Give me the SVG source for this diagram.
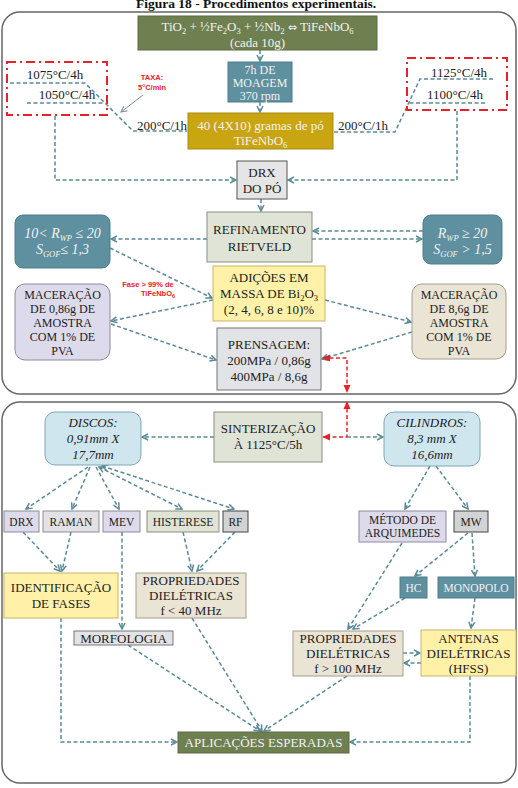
<svg xmlns="http://www.w3.org/2000/svg" width="518" height="788" viewBox="0 0 518 788">
<style>
text{font-family:"Liberation Serif","Times New Roman",serif;font-size:13px;fill:#222;text-anchor:middle}
.w{fill:#f2f2f2}
.s{font-size:11.5px}
.m{font-size:12px}
.i{font-style:italic}
.sub{font-size:8.5px}
.red{font-family:"Liberation Sans",Arial,sans-serif;font-weight:bold;font-size:7.5px;fill:#e8202a}
.panel{fill:#fff;stroke:#666;stroke-width:1.5}
.c{fill:none;stroke:#5b8a96;stroke-width:1.5;stroke-dasharray:4 2.5;marker-end:url(#a)}
.n{fill:none;stroke:#5b8a96;stroke-width:1.5;stroke-dasharray:4 2.5}
.b{marker-start:url(#a)}
.r{fill:none;stroke:#e8202a;stroke-width:1.5;stroke-dasharray:4 2.5;marker-start:url(#ar);marker-end:url(#ar)}
.dd{fill:none;stroke:#e8202a;stroke-width:2;stroke-dasharray:9 4 2 4}
.green{fill:#6e8050;stroke:#5a6b40}
.teal{fill:#5f909f;stroke:#4d7d8b}
.gold{fill:#c9a512;stroke:#a88a10}
.gray{fill:#e5e5e5;stroke:#555}
.gg{fill:#dfe4d7;stroke:#8a8f80}
.yel{fill:#fff1a8;stroke:#c8b56a}
.lav{fill:#dddbeb;stroke:#8c8a9c}
.bei{fill:#e9e4d4;stroke:#a39e8e}
.lg{fill:#e1e3e6;stroke:#777}
.lb{fill:#cfe6ee;stroke:#7fa7b3}
.rf{fill:#d3d3d3;stroke:#444}
</style>
<defs>
<marker id="a" viewBox="0 0 8 8" refX="7" refY="4" markerWidth="8" markerHeight="8" markerUnits="userSpaceOnUse" orient="auto-start-reverse"><path d="M1,1 L7,4 L1,7" fill="none" stroke="#5b8a96" stroke-width="1.5"/></marker>
<marker id="ar" viewBox="0 0 8 8" refX="7" refY="4" markerWidth="8" markerHeight="8" markerUnits="userSpaceOnUse" orient="auto-start-reverse"><path d="M0,0.5 L8,4 L0,7.5 Z" fill="#e8202a"/></marker>
<marker id="ag" viewBox="0 0 8 8" refX="7" refY="4" markerWidth="8" markerHeight="8" markerUnits="userSpaceOnUse" orient="auto"><path d="M1,1 L7,4 L1,7" fill="none" stroke="#7a8a96" stroke-width="1"/></marker>
</defs>

<text x="256" y="8" style="font-weight:bold;font-size:13.5px;fill:#111">Figura 18 - Procedimentos experimentais.</text>

<rect class="panel" x="2" y="12" width="514" height="382" rx="18"/>
<rect class="panel" x="2" y="402" width="514" height="381" rx="18"/>

<g id="connectors">
<path class="c" d="M260,50 V61"/>
<path class="c" d="M260,102 V112"/>
<path class="n" d="M10,83 H85 L133,131 H187"/>
<path class="n" d="M27,103 H105"/>
<path class="n" d="M493,79 H420 L395,132 H334"/>
<path class="n" d="M485,103 H408"/>
<path class="c" d="M55,116 V180 H236"/>
<path class="c" d="M457,111 V180 H288"/>
<path d="M143,95 L121,112" fill="none" stroke="#7a8a96" stroke-width="1" marker-end="url(#ag)"/>
<path class="c" d="M261,199 V211"/>
<path class="c" d="M207,239 H111"/>
<path class="c" d="M423,231 H313"/>
<path class="c" d="M312,239 H422"/>
<path class="c" d="M110,248 L212,298"/>
<path class="c" d="M213,300 L111,321"/>
<path class="c" d="M111,324 L216,360"/>
<path class="c" d="M325,300 L411,322"/>
<path class="c" d="M412,332 L322,359"/>
<path class="r" d="M323,358 H347 V392"/>
<path class="r" d="M347,402 V437 H323"/>
<path class="c" d="M347,437 H383"/>
<path class="c" d="M214,437 H142"/>
<path class="c" d="M88,467 L26,509"/>
<path class="c" d="M90,467 L72,509"/>
<path class="c" d="M96,467 L119,509"/>
<path class="c b" d="M99,467 L182,509"/>
<path class="c b" d="M102,466 L234,509"/>
<path class="c" d="M23,532 L60,571"/>
<path class="c" d="M71,532 L62,571"/>
<path class="c" d="M122,532 V629"/>
<path class="c" d="M183,532 L192,571"/>
<path class="c" d="M235,532 L197,571"/>
<path class="c" d="M430,466 L405,509"/>
<path class="c" d="M436,466 L468,509"/>
<path class="c" d="M468,533 L415,576"/>
<path class="c" d="M472,533 L475,576"/>
<path class="c" d="M402,543 L348,629"/>
<path class="c" d="M405,598 L353,629"/>
<path class="c" d="M475,598 L471,628"/>
<path class="c" d="M403,653 H420"/>
<path class="c" d="M421,663 H404"/>
<path class="c" d="M61,618 V742 H177"/>
<path class="c" d="M470,676 V742 H350"/>
<path class="c" d="M128,645 L260,731"/>
<path class="c" d="M192,618 L262,731"/>
<path class="c" d="M347,676 L264,731"/>
</g>

<g id="temp-left">
<rect class="dd" x="7" y="62" width="100" height="53"/>
<text x="55" y="79">1075°C/4h</text>
<text x="67" y="99">1050°C/4h</text>
<text x="162" y="130">200°C/1h</text>
</g>
<g id="temp-right">
<rect class="dd" x="407" y="58" width="100" height="52"/>
<text x="459" y="77">1125°C/4h</text>
<text x="455" y="99">1100°C/4h</text>
<text x="363" y="130">200°C/1h</text>
</g>
<g id="taxa">
<text class="red" x="152" y="80">TAXA:</text>
<text class="red" x="152" y="90">5°C/min</text>
</g>
<g id="reacao">
<rect class="green" x="138" y="16" width="239" height="34"/>
<text class="w" x="257.5" y="31">TiO<tspan class="sub" dy="3">2</tspan><tspan dy="-3"> + ½Fe</tspan><tspan class="sub" dy="3">2</tspan><tspan dy="-3">O</tspan><tspan class="sub" dy="3">3</tspan><tspan dy="-3"> + ½Nb</tspan><tspan class="sub" dy="3">2</tspan><tspan dy="-3"> </tspan><tspan style="font-family:'DejaVu Sans',sans-serif;font-size:11px">⇔</tspan><tspan> TiFeNbO</tspan><tspan class="sub" dy="3">6</tspan></text>
<text class="w" x="257.5" y="47">(cada 10g)</text>
</g>
<g id="moagem">
<rect class="teal" x="228" y="62" width="64" height="40"/>
<text class="w m" x="260" y="74">7h DE</text>
<text class="w m" x="260" y="87">MOAGEM</text>
<text class="w m" x="260" y="100">370 rpm</text>
</g>
<g id="po">
<rect class="gold" x="188" y="113" width="145" height="36"/>
<text class="w" x="260.5" y="130">40 (4X10) gramas de pó</text>
<text class="w" x="260.5" y="145">TiFeNbO<tspan class="sub" dy="3">6</tspan></text>
</g>
<g id="drx-po">
<rect class="gray" x="237" y="161" width="50" height="38"/>
<text x="262" y="177">DRX</text>
<text x="262" y="193">DO PÓ</text>
</g>
<g id="refinamento">
<rect class="gg" x="207" y="212" width="105" height="50"/>
<text x="259.5" y="234">REFINAMENTO</text>
<text x="259.5" y="251">RIETVELD</text>
</g>
<g id="rwp-left">
<rect class="teal" x="15" y="215" width="95" height="53" rx="8"/>
<text class="w i" x="62.5" y="238" style="font-size:14px">10&lt; R<tspan class="sub" dy="3">WP</tspan><tspan dy="-3"> ≤ 20</tspan></text>
<text class="w i" x="62.5" y="254" style="font-size:14px">S<tspan class="sub" dy="3">GOF</tspan><tspan dy="-3">≤ 1,3</tspan></text>
</g>
<g id="rwp-right">
<rect class="teal" x="423" y="215" width="79" height="49" rx="8"/>
<text class="w i" x="462.5" y="238" style="font-size:14px">R<tspan class="sub" dy="3">WP</tspan><tspan dy="-3"> ≥ 20</tspan></text>
<text class="w i" x="462.5" y="254" style="font-size:14px">S<tspan class="sub" dy="3">GOF</tspan><tspan dy="-3"> &gt; 1,5</tspan></text>
</g>
<g id="fase">
<text class="red" x="148" y="287">Fase &gt; 99% de</text>
<text class="red" x="158" y="296">TiFeNbO<tspan dy="2" style="font-size:5.5px">6</tspan></text>
</g>
<g id="adicoes">
<rect class="yel" x="213" y="266" width="112" height="55"/>
<text x="269" y="282">ADIÇÕES EM</text>
<text x="269" y="298">MASSA DE Bi<tspan class="sub" dy="3">2</tspan><tspan dy="-3">O</tspan><tspan class="sub" dy="3">3</tspan></text>
<text x="269" y="314">(2, 4, 6, 8 e 10)%</text>
</g>
<g id="maceracao-left">
<rect class="lav" x="15" y="284" width="95" height="76" rx="10"/>
<text class="m" x="62.5" y="299">MACERAÇÃO</text>
<text class="m" x="62.5" y="313">DE 0,86g DE</text>
<text class="m" x="62.5" y="327">AMOSTRA</text>
<text class="m" x="62.5" y="341">COM 1% DE</text>
<text class="m" x="62.5" y="355">PVA</text>
</g>
<g id="maceracao-right">
<rect class="bei" x="412" y="284" width="94" height="75" rx="10"/>
<text class="m" x="459" y="299">MACERAÇÃO</text>
<text class="m" x="459" y="313">DE 8,6g DE</text>
<text class="m" x="459" y="327">AMOSTRA</text>
<text class="m" x="459" y="341">COM 1% DE</text>
<text class="m" x="459" y="355">PVA</text>
</g>
<g id="prensagem">
<rect class="lg" x="217" y="328" width="104" height="62"/>
<text x="269" y="349">PRENSAGEM:</text>
<text x="269" y="365">200MPa / 0,86g</text>
<text x="269" y="381">400MPa / 8,6g</text>
</g>

<g id="sinterizacao">
<rect class="gg" x="214" y="412" width="108" height="50"/>
<text x="268" y="433">SINTERIZAÇÃO</text>
<text x="268" y="449">À 1125°C/5h</text>
</g>
<g id="discos">
<rect class="lb" x="45" y="412" width="96" height="53" rx="10"/>
<text class="i" x="93" y="427">DISCOS:</text>
<text class="i" x="93" y="443">0,91mm X</text>
<text class="i" x="93" y="459">17,7mm</text>
</g>
<g id="cilindros">
<rect class="lb" x="384" y="412" width="96" height="54" rx="10"/>
<text class="i" x="432" y="427">CILINDROS:</text>
<text class="i" x="432" y="443">8,3 mm X</text>
<text class="i" x="432" y="459">16,6mm</text>
</g>
<g id="drx"><rect class="lav" x="4" y="511" width="35" height="21"/><text class="s" x="21.5" y="526">DRX</text></g>
<g id="raman"><rect class="lg" x="43" y="511" width="56" height="21" style="fill:#e2e2e6;stroke:#8c8c96"/><text class="s" x="71" y="526">RAMAN</text></g>
<g id="mev"><rect class="lav" x="103" y="511" width="37" height="21"/><text class="s" x="121.5" y="526">MEV</text></g>
<g id="histerese"><rect class="gg" x="147" y="511" width="72" height="21"/><text class="s" x="183" y="526">HISTERESE</text></g>
<g id="rf"><rect class="rf" x="223" y="511" width="25" height="21"/><text class="s" x="235.5" y="526">RF</text></g>
<g id="arquimedes">
<rect class="lav" x="359" y="511" width="87" height="31"/>
<text class="s" x="402.5" y="524">MÉTODO DE</text>
<text class="s" x="402.5" y="537">ARQUIMEDES</text>
</g>
<g id="mw"><rect class="rf" x="454" y="511" width="34" height="21"/><text class="s" x="471" y="526">MW</text></g>
<g id="hc"><rect class="teal" x="400" y="577" width="27" height="21"/><text class="s w" x="413.5" y="592">HC</text></g>
<g id="monopolo"><rect class="teal" x="438" y="577" width="76" height="21"/><text class="s w" x="476" y="592">MONOPOLO</text></g>
<g id="identificacao">
<rect class="yel" x="4" y="573" width="114" height="45"/>
<text x="61" y="592">IDENTIFICAÇÃO</text>
<text x="61" y="608">DE FASES</text>
</g>
<g id="prop40">
<rect class="bei" x="136" y="573" width="110" height="45"/>
<text x="191" y="585">PROPRIEDADES</text>
<text x="191" y="600">DIELÉTRICAS</text>
<text x="191" y="615">f &lt; 40 MHz</text>
</g>
<g id="morfologia">
<rect class="lg" x="74" y="631" width="99" height="14"/>
<text x="123.5" y="642.5">MORFOLOGIA</text>
</g>
<g id="prop100">
<rect class="bei" x="293" y="631" width="110" height="45"/>
<text x="348" y="643">PROPRIEDADES</text>
<text x="348" y="658">DIELÉTRICAS</text>
<text x="348" y="673">f &gt; 100 MHz</text>
</g>
<g id="antenas">
<rect class="yel" x="421" y="630" width="95" height="46"/>
<text x="468.5" y="643">ANTENAS</text>
<text x="468.5" y="658">DIELÉTRICAS</text>
<text x="468.5" y="673">(HFSS)</text>
</g>
<g id="aplicacoes">
<rect class="green" x="178" y="732" width="171" height="21"/>
<text class="w" x="263.5" y="747">APLICAÇÕES ESPERADAS</text>
</g>
</svg>
